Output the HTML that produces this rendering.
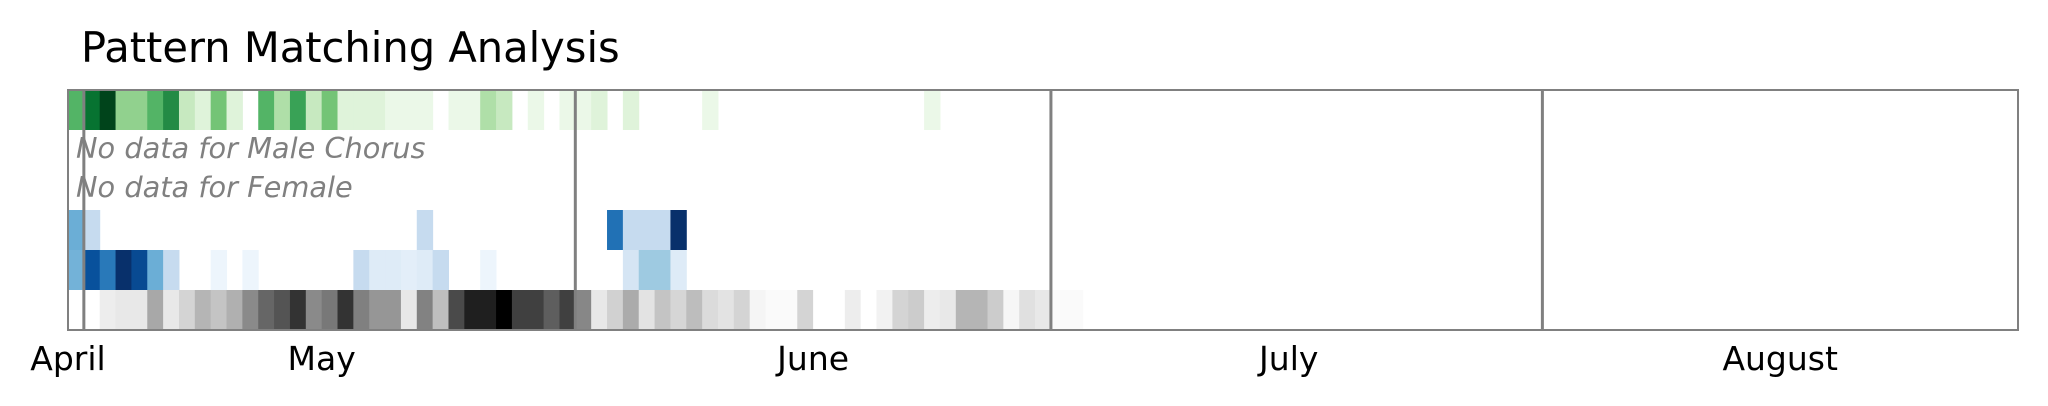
<!DOCTYPE html>
<html><head><meta charset="utf-8"><style>
html,body{margin:0;padding:0;background:#fff;}
svg{display:block;font-family:"DejaVu Sans","Liberation Sans",sans-serif;}
</style></head><body>
<svg id="chart" width="2048" height="406" viewBox="0 0 2048 406" xmlns="http://www.w3.org/2000/svg">
<text x="81" y="62" font-size="41.6" fill="#000">Pattern Matching Analysis</text>
<g id="cells"></g>
<text x="76" y="158" font-size="28.8" font-style="italic" fill="#808080">No data for Male Chorus</text>
<text x="76" y="197" font-size="28.8" font-style="italic" fill="#808080">No data for Female</text>
<g id="lines"></g>
<rect x="68" y="90" width="1950" height="240" fill="none" stroke="#808080" stroke-width="2"/>
<g id="ticks"></g>
</svg>
<script>
const monthLabels = ["April","May","June","July","August"];
const tickDays = [0, 16, 47, 77, 108];
const monthStartDays = [1, 32, 62, 93];
const greenValues = [.58,.85,1,.42,.42,.58,.75,.25,.15,.5,.15,0,.58,.33,.66,.25,.5,.15,.15,.15,.08,.08,.08,0,.08,.08,.33,.25,0,.08,0,.08,.08,.15,0,.15,0,0,0,0,.08,0,0,0,0,0,0,0,0,0,0,0,0,0,.08];
const blueValues1 = [.5,.25,0,0,0,0,0,0,0,0,0,0,0,0,0,0,0,0,0,0,0,0,.25,0,0,0,0,0,0,0,0,0,0,0,.75,.25,.25,.25,1];
const blueValues2 = [.48,.875,.72,1,.9,.5,.25,0,0,.05,0,.05,0,0,0,0,0,0,.25,.125,.125,.1,.125,.25,0,0,.05,0,0,0,0,0,0,0,0,.17,.375,.375,.125];
const greyValues = [0,0,.07,.09,.09,.34,.09,.17,.29,.23,.31,.46,.6,.67,.8,.46,.53,.8,.5,.41,.41,.09,.49,.25,.71,.88,.88,1,.75,.75,.63,.75,.47,.09,.18,.33,.11,.23,.16,.26,.14,.11,.17,.04,.02,.02,.17,0,0,.07,0,.05,.17,.2,.07,.09,.29,.29,.2,.035,.12,.09,.02,.02];

const X0 = 68, X1 = 2018, NDAYS = 123, Y0 = 90, ROWH = 40;
const dayW = (X1 - X0) / NDAYS;
function xScale(d){ return X0 + d * dayW; }
function yRow(r){ return Y0 + r * ROWH; }
const GREENS = ["#f7fcf5","#e5f5e0","#c7e9c0","#a1d99b","#74c476","#41ab5d","#238b45","#006d2c","#00441b"];
const BLUES = ["#f7fbff","#deebf7","#c6dbef","#9ecae1","#6baed6","#4292c6","#2171b5","#08519c","#08306b"];
function hex(c){ return [1,3,5].map(i=>parseInt(c.substr(i,2),16)); }
function cmap(pal, v){
  const p = Math.max(0, Math.min(1, v)) * (pal.length - 1);
  const i = Math.min(pal.length - 2, Math.floor(p)), t = p - i;
  const a = hex(pal[i]), b = hex(pal[i+1]);
  return "rgb(" + a.map((x,k)=>Math.round(x + (b[k]-x)*t)).join(",") + ")";
}
function grey(v){ const g = Math.round(255 * (1 - v)); return "rgb(" + g + "," + g + "," + g + ")"; }
const NS = "http://www.w3.org/2000/svg";
const cells = document.getElementById("cells");
function drawRow(vals, row, colorFn, name, keepZero){
  vals.forEach((v, i) => {
    if (!keepZero && v <= 0) return;
    const r = document.createElementNS(NS, "rect");
    r.setAttribute("x", xScale(i));
    r.setAttribute("y", yRow(row));
    r.setAttribute("width", dayW + 0.5);
    r.setAttribute("height", ROWH);
    r.setAttribute("fill", colorFn(v));
    
    
    cells.appendChild(r);
  });
}
drawRow(greenValues, 0, v => cmap(GREENS, v), "green", false);
drawRow(blueValues1, 3, v => cmap(BLUES, v), "blue-row1", false);
drawRow(blueValues2, 4, v => cmap(BLUES, v), "blue-row2", false);
drawRow(greyValues, 5, grey, "grey", true);

const lines = document.getElementById("lines");
monthStartDays.forEach(d => {
  const l = document.createElementNS(NS, "line");
  l.setAttribute("x1", xScale(d)); l.setAttribute("x2", xScale(d));
  l.setAttribute("y1", Y0); l.setAttribute("y2", Y0 + 6 * ROWH);
  l.setAttribute("stroke", "#808080"); l.setAttribute("stroke-width", "3");
  
  
  lines.appendChild(l);
});
const ticks = document.getElementById("ticks");
monthLabels.forEach((m, i) => {
  const t = document.createElementNS(NS, "text");
  t.setAttribute("x", xScale(tickDays[i]));
  t.setAttribute("y", 370);
  t.setAttribute("font-size", "33");
  t.setAttribute("text-anchor", "middle");
  t.textContent = m;
  
  
  ticks.appendChild(t);
});
</script>
</body></html>
